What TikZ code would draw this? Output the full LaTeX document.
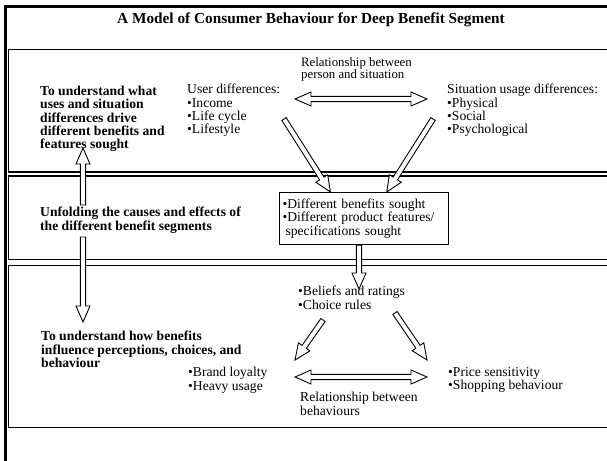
\documentclass[tikz,border=0pt]{standalone}
\usepackage{fontspec}
\setmainfont{Liberation Serif}
\usetikzlibrary{calc}

% hollow block arrow with one head, from #1 to #2
\newcommand{\hollowarrow}[2]{%
  \path ($(#2)!16pt!(#1)$) coordinate (tmphead);
  \draw[hollow] ($(#1)!2.6pt!90:(#2)$) -- ($(tmphead)!2.6pt!90:(#2)$)
    -- ($(tmphead)!7pt!90:(#2)$) -- (#2) -- ($(tmphead)!7pt!-90:(#2)$)
    -- ($(tmphead)!2.6pt!-90:(#2)$) -- ($(#1)!2.6pt!-90:(#2)$) -- cycle;
}
% hollow block arrow with heads at both ends
\newcommand{\hollowdoublearrow}[2]{%
  \path ($(#1)!16pt!(#2)$) coordinate (tmpheada)
        ($(#2)!16pt!(#1)$) coordinate (tmpheadb);
  \draw[hollow] (#1) -- ($(tmpheada)!7pt!90:(#2)$) -- ($(tmpheada)!2.6pt!90:(#2)$)
    -- ($(tmpheadb)!2.6pt!90:(#2)$) -- ($(tmpheadb)!7pt!90:(#2)$) -- (#2)
    -- ($(tmpheadb)!7pt!-90:(#2)$) -- ($(tmpheadb)!2.6pt!-90:(#2)$)
    -- ($(tmpheada)!2.6pt!-90:(#2)$) -- ($(tmpheada)!7pt!-90:(#2)$) -- cycle;
}

\begin{document}
\begin{tikzpicture}[x=1pt,y=-1pt,
  frame/.style={draw=black, line width=3pt},
  band/.style={draw=black, line width=1.3pt},
  plain/.style={inner sep=0pt, anchor=north west, align=left,
    font=\fontsize{13.6}{13.4}\selectfont},
  heading/.style={plain, font=\fontsize{13.6}{13.3}\selectfont\bfseries},
  hollow/.style={draw=black, fill=white, line width=0.9pt, line join=miter},
  resultbox/.style={draw=black, line width=1.2pt, fill=white, inner sep=3pt,
    minimum width=169pt, minimum height=52pt, text width=163pt, align=left,
    font=\fontsize{13.6}{13.8}\selectfont}
]
\useasboundingbox (0,0) rectangle (607,460);

% outer frame and the three bands
\draw[frame] (5,7) rectangle (640,490);
\draw[band] (8.5,49.5) rectangle (630,172);
\draw[band] (8.5,176) rectangle (630,259.5);
\draw[band] (8.5,265.5) rectangle (630,427.5);

\node[font=\fontsize{15.3}{15.3}\selectfont\bfseries] (title) at (311,20)
  {A Model of Consumer Behaviour for Deep Benefit Segment};

% band 1
\node[heading] (why) at (40,86) {To understand what\\uses and situation\\differences drive\\different benefits and\\features sought};
\node[plain] (user) at (187,84) {User differences:\\\textbullet Income\\\textbullet Life cycle\\\textbullet Lifestyle};
\node[plain, font=\fontsize{12.8}{11}\selectfont] (personsit) at (301,57) {Relationship between\\person and situation};
\node[plain] (situation) at (447,84) {Situation usage differences:\\\textbullet Physical\\\textbullet Social\\\textbullet Psychological};

% band 2
\node[heading] (unfold) at (40,207) {Unfolding the causes and effects of\\the different benefit segments};
\node[resultbox, anchor=north west] (sought) at (279,192)
  {\textbullet Different benefits sought\\\textbullet Different product features/\\\hspace*{3pt}specifications sought};

% band 3
\node[heading] (how) at (41,331) {To understand how benefits\\influence perceptions, choices, and\\behaviour};
\node[plain] (beliefs) at (298,286) {\textbullet Beliefs and ratings\\\textbullet Choice rules};
\node[plain] (loyalty) at (188,367) {\textbullet Brand loyalty\\\textbullet Heavy usage};
\node[plain] (price) at (448,367) {\textbullet Price sensitivity\\\textbullet Shopping behaviour};
\node[plain] (betweenbeh) at (300,392) {Relationship between\\behaviours};

% arrow end points
\coordinate (psL) at (295,99);
\coordinate (psR) at (427,99);
\coordinate (userout) at (284,119);
\coordinate (sitout) at (433,119);
\coordinate (soughtinL) at ($(sought.north west)!0.302!(sought.north east)$);
\coordinate (soughtinR) at ($(sought.north west)!0.633!(sought.north east)$);
\coordinate (soughtout) at (sought.south -| 359,0);
\coordinate (beliefsin) at (359,289);
\coordinate (beliefsoutL) at (323,320);
\coordinate (beliefsoutR) at (395,313);
\coordinate (loyaltyin) at (295,360);
\coordinate (pricein) at (427,360);
\coordinate (behL) at (295,377);
\coordinate (behR) at (427,377);
\coordinate (unfoldup) at (83,205);
\coordinate (whyin) at (83,148);
\coordinate (unfolddown) at (83,237);
\coordinate (howin) at (83,322);

% connectors
\hollowdoublearrow{psL}{psR}
\hollowarrow{userout}{soughtinL}
\hollowarrow{sitout}{soughtinR}
\hollowarrow{soughtout}{beliefsin}
\hollowarrow{beliefsoutL}{loyaltyin}
\hollowarrow{beliefsoutR}{pricein}
\hollowdoublearrow{behL}{behR}
\hollowarrow{unfoldup}{whyin}
\hollowarrow{unfolddown}{howin}
\end{tikzpicture}
\end{document}
